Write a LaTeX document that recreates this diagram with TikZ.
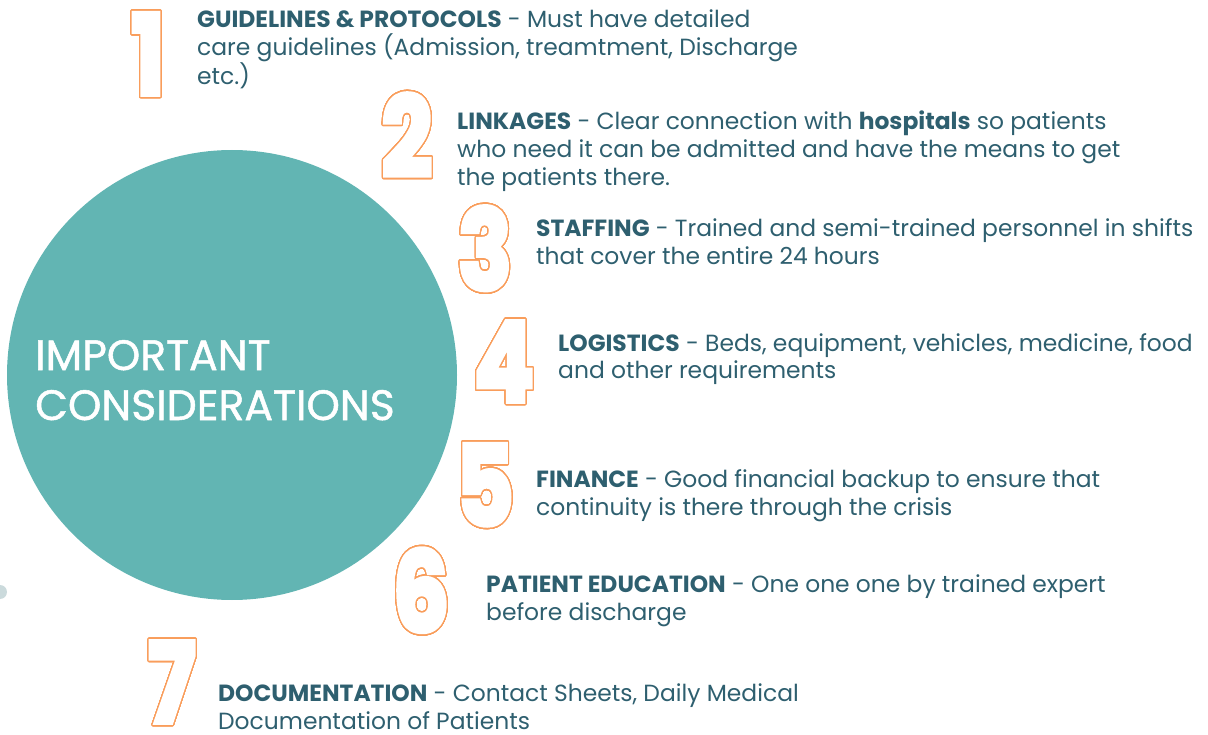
\documentclass[tikz,border=0pt]{standalone}
\usepackage{fontspec}
\setmainfont{Poppins}
\newfontfamily\numfont{Poppins}[FakeBold=5]
\newfontfamily\headfont{Poppins}[FakeBold=1.2]
\usepackage[copies]{contour}
\usetikzlibrary{positioning}

\definecolor{discteal}{HTML}{62B5B3}
\definecolor{ink}{HTML}{2E5F6F}
\definecolor{peach}{HTML}{F99D5B}
\definecolor{dotgray}{HTML}{CBDADC}

\contourlength{1.5pt}
\contournumber{48}

% narrow hollow numeral
\newcommand{\hollow}[1]{\scalebox{0.8}[1]{\contour{peach}{\color{white}#1}}}

\begin{document}
\begin{tikzpicture}[x=1pt, y=-1pt,
    numeral/.style={anchor=base, inner sep=0pt,
      font=\numfont\bfseries\fontsize{110}{110}\selectfont},
    item/.style={anchor=base west, inner sep=0pt, align=left, text=ink,
      font=\fontsize{23.4}{28}\selectfont},
    title/.style={anchor=base west, inner sep=0pt, align=left, text=white,
      font=\headfont\fontsize{42.5}{50}\selectfont}]
  % page frame
  \useasboundingbox (0,0) rectangle (1208,735);

  % big disc and the small dot at the edge
  \fill[discteal] (232,375) circle[radius=225pt];
  \fill[dotgray] (0,592) circle[radius=7pt];

  % (multi-line nodes sit on their last baseline)
  \node[title] (head) at (35,420) {IMPORTANT\\CONSIDERATIONS};

  % hollow numerals
  \foreach \n/\x/\y in {1/148/94, 2/407/176, 3/485/289, 4/504/401,
                        5/485/525, 6/421/631, 7/172/722}
    \node[numeral] (num\n) at (\x,\y) {\hollow{\n}};

  % the seven points
  \node[item] (txt1) at (197,85)
    {\textbf{GUIDELINES \& PROTOCOLS} - Must have detailed\\
     care guidelines (Admission, treamtment, Discharge\\etc.)};
  \node[item] (txt2) at (457,186)
    {\textbf{LINKAGES} - Clear connection with \textbf{hospitals} so patients\\
     who need it can be admitted and have the means to get\\the patients there.};
  \node[item] (txt3) at (536,265)
    {\textbf{STAFFING} - Trained and semi-trained personnel in shifts\\
     that cover the entire 24 hours};
  \node[item] (txt4) at (558,379)
    {\textbf{LOGISTICS} - Beds, equipment, vehicles, medicine, food\\
     and other requirements};
  \node[item] (txt5) at (536,515)
    {\textbf{FINANCE} - Good financial backup to ensure that\\
     continuity is there through the crisis};
  \node[item] (txt6) at (486,620)
    {\textbf{PATIENT EDUCATION} - One one one by trained expert\\
     before discharge};
  \node[item] (txt7) at (218,729)
    {\textbf{DOCUMENTATION} - Contact Sheets, Daily Medical\\
     Documentation of Patients};
\end{tikzpicture}
\end{document}
